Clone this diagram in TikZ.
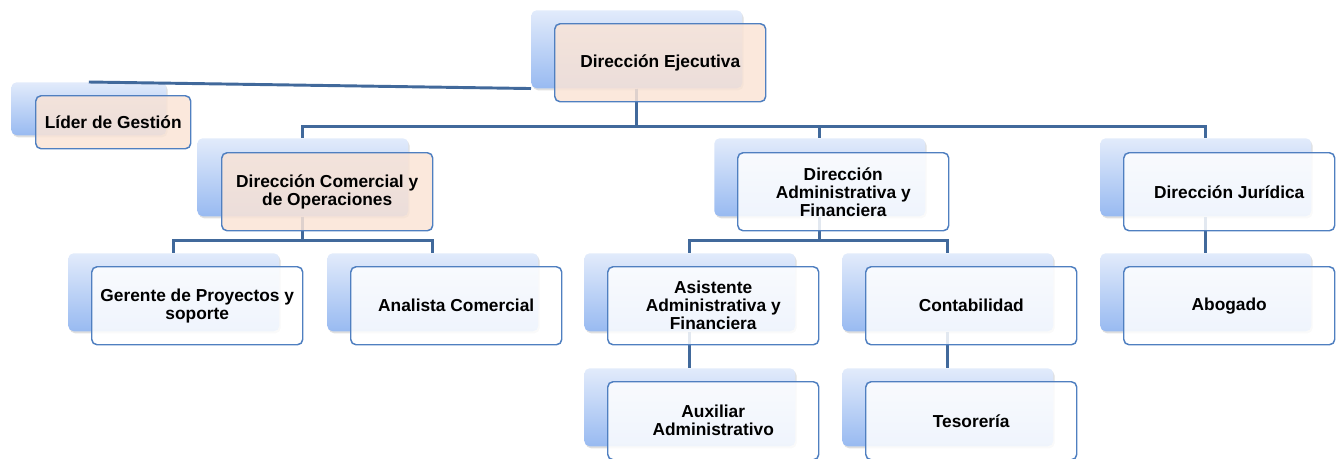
\documentclass[tikz,border=0pt]{standalone}
\usepackage{fontspec}
\setmainfont{Liberation Sans}
\usepackage{tikz}
\usetikzlibrary{shadows}

\definecolor{linkblue}{HTML}{41699B}
\definecolor{edgeblue}{HTML}{4F7FC0}
\definecolor{tabtop}{HTML}{E2EBFB}
\definecolor{tabbot}{HTML}{98BAF1}
\definecolor{peach}{HTML}{FAE4D6}

\tikzset{
  tab/.style={rounded corners=4pt, top color=tabtop, bottom color=tabbot,
    minimum width=158.25pt, minimum height=58.5pt, anchor=north west, inner sep=0pt,
    drop shadow={opacity=0.25, shadow xshift=1pt, shadow yshift=-1.5pt}},
  unit/.style={draw=edgeblue, line width=1.1pt, rounded corners=4pt, fill=white, fill opacity=0.85,
    text opacity=1, minimum width=158.25pt, minimum height=58.5pt, anchor=north west,
    align=center, inner sep=2pt, font=\fontsize{13}{13.5}\selectfont\bfseries},
  link/.style={draw=linkblue, line width=2.2pt}
}

\begin{document}
\begin{tikzpicture}[x=0.75pt, y=-0.75pt]
      \useasboundingbox (0,0) rectangle (1342,458);
      % back tabs
      \node[tab] (eje-t) at (531,10) {};
      \node[tab, minimum width=116.25pt, minimum height=39.75pt] (lid-t) at (11,82) {};
      \node[tab] (com-t) at (197,138) {};
      \node[tab] (adm-t) at (714,138) {};
      \node[tab] (jur-t) at (1100,138) {};
      \node[tab] (ger-t) at (68,253) {};
      \node[tab] (ana-t) at (327,253) {};
      \node[tab] (asi-t) at (584,253) {};
      \node[tab] (con-t) at (842,253) {};
      \node[tab] (abo-t) at (1100,253) {};
      \node[tab] (aux-t) at (584,368) {};
      \node[tab] (tes-t) at (842,368) {};
      % links
      \draw[link] (eje-t.south west) -- (lid-t.north);
      \draw[link] (eje-t.south) -- ++(0,38) -| (com-t.north);
      \draw[link] (eje-t.south) -- ++(0,38) -| (adm-t.north);
      \draw[link] (eje-t.south) -- ++(0,38) -| (jur-t.north);
      \draw[link] (com-t.south) -- ++(0,24) -| (ger-t.north);
      \draw[link] (com-t.south) -- ++(0,24) -| (ana-t.north);
      \draw[link] (adm-t.south) -- ++(0,24) -| (asi-t.north);
      \draw[link] (adm-t.south) -- ++(0,24) -| (con-t.north);
      \draw[link] (jur-t.south) -- (abo-t.north);
      \draw[link] (asi-t.south) -- (aux-t.north);
      \draw[link] (con-t.south) -- (tes-t.north);
      % front boxes
      \node[unit, fill=peach] (eje) at (554,23) {Dirección Ejecutiva};
      \node[unit, fill=peach, minimum width=116.25pt, minimum height=39.75pt] (lid) at (35,95) {Líder de Gestión};
      \node[unit, fill=peach] (com) at (221,152) {Dirección Comercial y\\de Operaciones};
      \node[unit] (adm) at (737,152) {Dirección\\Administrativa y\\Financiera};
      \node[unit] (jur) at (1123,152) {Dirección Jurídica};
      \node[unit] (ger) at (91,266) {Gerente de Proyectos y\\soporte};
      \node[unit] (ana) at (350,266) {Analista Comercial};
      \node[unit] (asi) at (607,266) {Asistente\\Administrativa y\\Financiera};
      \node[unit] (con) at (865,266) {Contabilidad};
      \node[unit] (abo) at (1123,266) {Abogado};
      \node[unit] (aux) at (607,381) {Auxiliar\\Administrativo};
      \node[unit] (tes) at (865,381) {Tesorería};
\end{tikzpicture}
\end{document}
